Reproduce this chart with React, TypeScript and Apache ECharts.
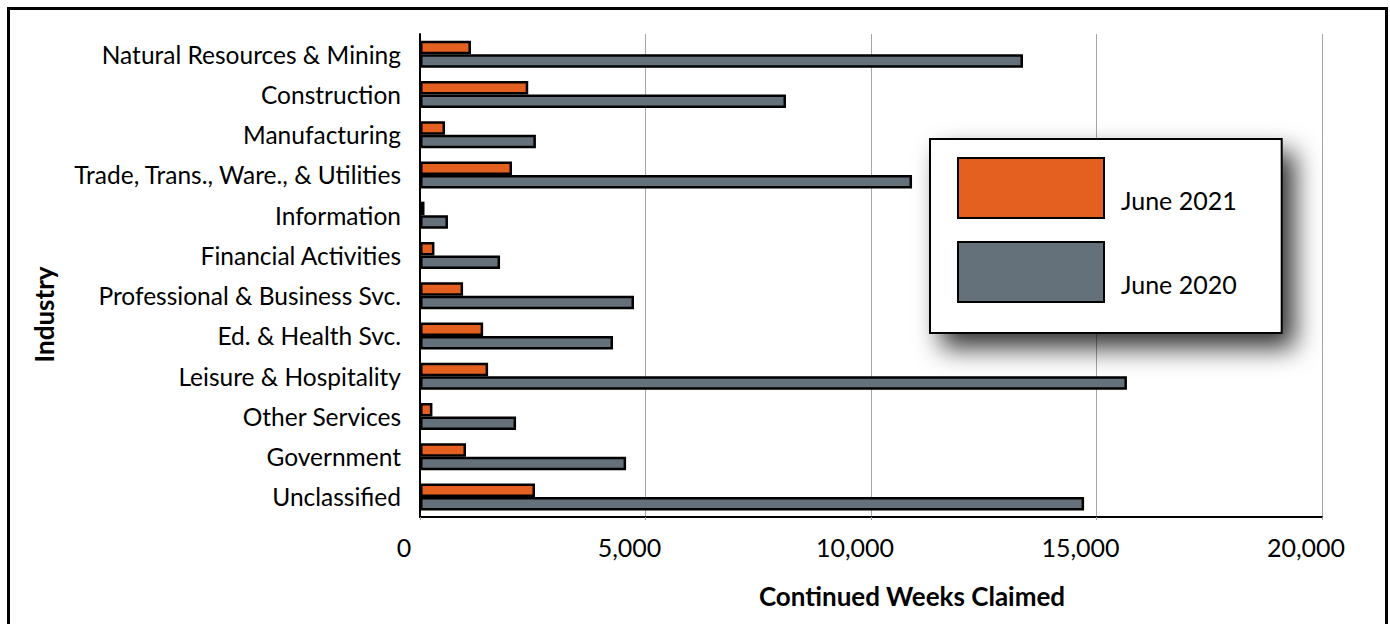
import React, { useEffect, useRef } from "react";
import * as echarts from "echarts";

const categories = [
  "Natural Resources & Mining",
  "Construction",
  "Manufacturing",
  "Trade, Trans., Ware., & Utilities",
  "Information",
  "Financial Activities",
  "Professional & Business Svc.",
  "Ed. & Health Svc.",
  "Leisure & Hospitality",
  "Other Services",
  "Government",
  "Unclassified",
];
const june2021 = [1130, 2400, 555, 2040, 100, 320, 955, 1400, 1510, 275, 1020, 2550];
const june2020 = [13370, 8115, 2570, 10910, 620, 1775, 4745, 4280, 15675, 2130, 4570, 14725];
const seriesNames = ["June 2021", "June 2020"];
const xTicks = { min: 0, max: 20000, interval: 5000 };

const FONT = "Lato";
const ORANGE = "#E46020";
const GRAY = "#64717A";

export default function App() {
  const ref = useRef<HTMLDivElement>(null);
  useEffect(() => {
    if (!ref.current) return;
    const chart = echarts.init(ref.current, null, { renderer: "svg" });
    const fmt = (v: number) => v.toLocaleString("en-US");
    chart.setOption({
      animation: false,
      backgroundColor: "#fff",
      textStyle: { fontFamily: FONT },
      grid: { left: 420, top: 34, width: 902, height: 483, containLabel: false },
      legend: {
        orient: "vertical",
        left: 930,
        top: 139,
        data: seriesNames,
        icon: "rect",
        itemWidth: 146,
        itemHeight: 60,
        itemGap: 22,
        padding: [18, 45, 30, 27],
        backgroundColor: "#fff",
        borderColor: "#000",
        borderWidth: 2,
        borderRadius: 0,
        shadowBlur: 26,
        shadowColor: "rgba(0,0,0,0.8)",
        shadowOffsetX: 12,
        shadowOffsetY: 14,
        formatter: (name: string) => "{t|" + name + "}",
        textStyle: {
          fontFamily: FONT,
          fontSize: 25,
          color: "#000",
          rich: {
            t: {
              fontFamily: FONT,
              fontSize: 25,
              color: "#000",
              padding: [24, 0, 0, 12],
            },
          },
        },
      },
      xAxis: {
        type: "value",
        min: xTicks.min,
        max: xTicks.max,
        interval: xTicks.interval,
        name: "Continued Weeks Claimed",
        nameLocation: "middle",
        nameGap: 66,
        nameTextStyle: {
          fontFamily: FONT,
          fontSize: 26,
          fontWeight: "bold",
          color: "#000",
          padding: [0, 0, 0, 82],
        },
        axisLine: { show: true, lineStyle: { color: "#000", width: 2 } },
        axisTick: { show: true, length: 3, lineStyle: { color: "#A0A0A0" } },
        splitLine: { show: true, lineStyle: { color: "#A6A6A6", width: 1 } },
        axisLabel: {
          fontFamily: FONT,
          fontSize: 25,
          color: "#000",
          margin: 17,
          padding: [0, 32, 0, 0],
          formatter: (v: number) => fmt(v),
        },
      },
      yAxis: {
        type: "category",
        inverse: true,
        data: categories,
        name: "Industry",
        nameLocation: "middle",
        nameRotate: 90,
        nameGap: 363,
        nameTextStyle: {
          fontFamily: FONT,
          fontSize: 26,
          fontWeight: "bold",
          color: "#000",
          padding: [0, 78, 0, 0],
        },
        axisLine: { show: true, lineStyle: { color: "#000", width: 2 } },
        axisTick: { show: false },
        splitLine: { show: false },
        axisLabel: {
          fontFamily: FONT,
          fontSize: 24.5,
          color: "#000",
          margin: 19,
          padding: [0, 0, 4, 0],
        },
      },
      series: [
        {
          name: seriesNames[0],
          type: "bar",
          data: june2021,
          barWidth: 13.5,
          barGap: "0%",
          itemStyle: { color: ORANGE, borderColor: "#000", borderWidth: 2.5 },
        },
        {
          name: seriesNames[1],
          type: "bar",
          data: june2020,
          barWidth: 13.5,
          barGap: "0%",
          itemStyle: { color: GRAY, borderColor: "#000", borderWidth: 2.5 },
        },
      ],
      graphic: [
        {
          type: "rect",
          left: 6,
          top: 6,
          shape: { x: 0, y: 0, width: 1378, height: 640 },
          style: { fill: "none", stroke: "#000", lineWidth: 3 },
          silent: true,
        },
      ],
    });
    return () => chart.dispose();
  }, []);
  return (
    <div
      ref={ref}
      style={{ position: "fixed", left: 0, top: 0, width: 1390, height: 624 }}
    />
  );
}
